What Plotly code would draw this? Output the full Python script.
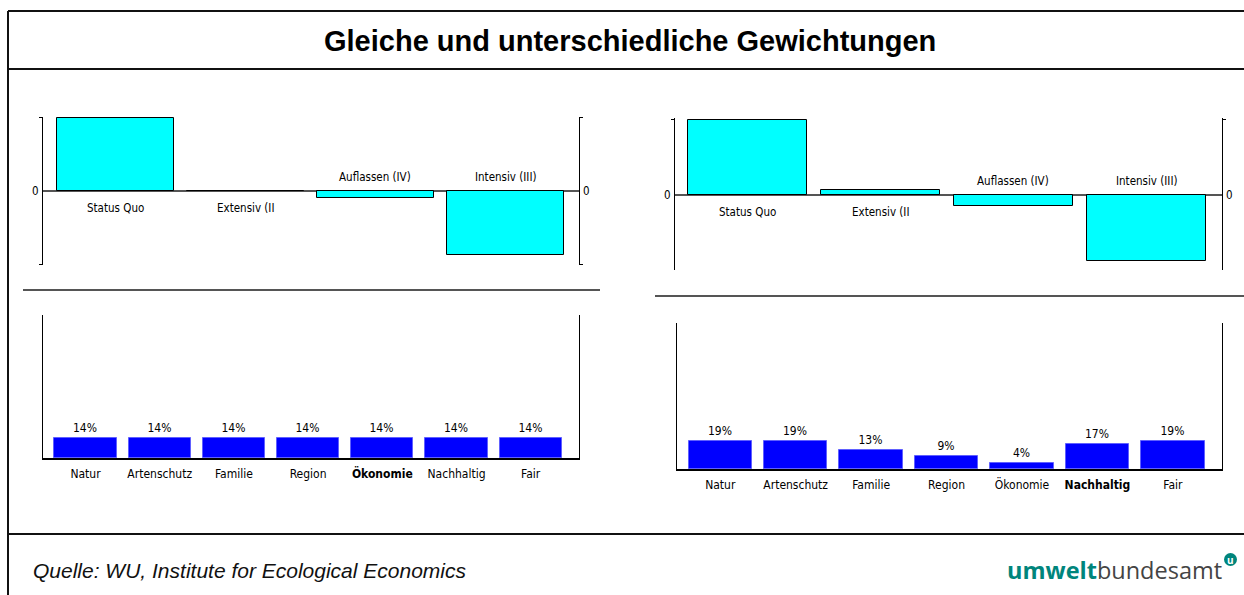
import plotly.graph_objects as go

# ---------------- data ----------------
options = ["Status Quo", "Extensiv (II", "Auflassen (IV)", "Intensiv (III)"]
utility_equal = [0.985, 0.0, -0.095, -0.865]
utility_diff = [0.99, 0.066, -0.145, -0.87]

criteria = ["Natur", "Artenschutz", "Familie", "Region", "Ökonomie", "Nachhaltig", "Fair"]
weights_equal = [14, 14, 14, 14, 14, 14, 14]
weights_diff = [19, 19, 13, 9, 4, 17, 19]
bold_equal = "Ökonomie"
bold_diff = "Nachhaltig"

title_text = "Gleiche und unterschiedliche Gewichtungen"
source_text = "Quelle: WU, Institute for Ecological Economics"

# ---------------- layout helpers ----------------
W, H = 1244, 595
def fx(x):
    return x / W
def fy(y):
    return 1 - y / H

SMALL = "Liberation Sans Narrow, Arial Narrow, DejaVu Sans Condensed, sans-serif"
SMALL_SIZE = 11.5
CYAN = "#00ffff"
BLUE = "#0000ff"

fig = go.Figure()

# top charts (utility)
for vals, xa, ya in [(utility_equal, "x", "y"), (utility_diff, "x2", "y2")]:
    fig.add_trace(go.Bar(
        x=options, y=vals, xaxis=xa, yaxis=ya, width=0.9,
        marker=dict(color=CYAN, line=dict(color="#000000", width=1)),
        showlegend=False, hoverinfo="x+y",
    ))
    for o, v in zip(options, vals):
        fig.add_annotation(
            x=o, y=0, xref=xa, yref=ya, text=o, showarrow=False,
            yanchor="middle", yshift=(-17 if v >= 0 else 14),
            font=dict(family=SMALL, size=SMALL_SIZE, color="#000"),
        )
    for xpos, anchor, shift in [(0, "right", -2), (1, "left", 2)]:
        fig.add_annotation(
            x=xpos, y=0, xref=xa + " domain", yref=ya, text="0", showarrow=False,
            xanchor=anchor, xshift=shift, yanchor="middle",
            font=dict(family=SMALL, size=SMALL_SIZE, color="#000"),
        )

# bottom charts (weights)
for vals, xa, ya in [(weights_equal, "x3", "y3"), (weights_diff, "x4", "y4")]:
    fig.add_trace(go.Bar(
        x=criteria, y=vals, xaxis=xa, yaxis=ya, width=0.84,
        marker=dict(color=BLUE, line=dict(color="#6060ff", width=1)),
        text=[f"{v}%" for v in vals], textposition="outside", cliponaxis=False,
        textfont=dict(family=SMALL, size=12, color="#000"),
        showlegend=False, hoverinfo="x+y",
    ))

def ticktext(bold):
    return [f"<b>{c}</b>" if c == bold else c for c in criteria]

top_y = dict(range=[-1, 1], zeroline=True, zerolinecolor="#555555", zerolinewidth=2,
             showgrid=False, showline=True, linecolor="#000", linewidth=1, mirror="ticks",
             ticks="outside", ticklen=3, tickcolor="#000", tickvals=[-0.995, 0.995],
             ticktext=["", ""], layer="above traces", fixedrange=True)
top_x = dict(showgrid=False, showline=False, showticklabels=False, ticks="", zeroline=False,
             fixedrange=True)
bot_y = dict(range=[0, 100], showgrid=False, zeroline=False, showline=True, linecolor="#000",
             linewidth=1, mirror=True, showticklabels=False, ticks="", fixedrange=True)
bot_x = dict(showgrid=False, zeroline=False, showline=True, linecolor="#000", linewidth=2,
             ticks="outside", ticklen=4, tickcolor="rgba(0,0,0,0)",
             tickfont=dict(family=SMALL, size=12, color="#000"), fixedrange=True,
             range=[-0.573, 6.651], tickmode="array", tickvals=criteria)

fig.update_layout(
    width=W, height=H, autosize=False,
    margin=dict(l=0, r=0, t=0, b=0),
    paper_bgcolor="white", plot_bgcolor="white",
    bargap=0,
    xaxis=dict(top_x, domain=[fx(43), fx(579)], range=[-0.554, 3.569], anchor="y"),
    yaxis=dict(top_y, domain=[fy(265), fy(117)], anchor="x"),
    xaxis2=dict(top_x, domain=[fx(675), fx(1222)], range=[-0.545, 3.568], anchor="y2"),
    yaxis2=dict(top_y, domain=[fy(270), fy(118)], anchor="x2", range=[-0.99, 1.01]),
    xaxis3=dict(bot_x, domain=[fx(43), fx(579)], anchor="y3", ticktext=ticktext(bold_equal)),
    yaxis3=dict(bot_y, domain=[fy(458), fy(315)], anchor="x3"),
    xaxis4=dict(bot_x, domain=[fx(677), fx(1222)], anchor="y4", ticktext=ticktext(bold_diff)),
    yaxis4=dict(bot_y, domain=[fy(469), fy(323)], anchor="x4"),
)

# frame lines
frame = dict(type="line", xref="paper", yref="paper", line=dict(color="#111", width=2))
shapes = [
    dict(frame, x0=fx(8), x1=1, y0=fy(11), y1=fy(11)),
    dict(frame, x0=fx(8), x1=1, y0=fy(69), y1=fy(69)),
    dict(frame, x0=fx(8), x1=1, y0=fy(534), y1=fy(534)),
    dict(frame, x0=fx(8), x1=fx(8), y0=fy(11), y1=0),
    dict(type="line", xref="paper", yref="paper", x0=fx(23), x1=fx(600), y0=fy(290), y1=fy(290),
         line=dict(color="#555", width=2)),
    dict(type="line", xref="paper", yref="paper", x0=fx(655), x1=1, y0=fy(296), y1=fy(296),
         line=dict(color="#555", width=2)),
    dict(type="circle", xref="paper", yref="paper", x0=fx(1224), x1=fx(1237), y0=fy(566), y1=fy(553),
         fillcolor="#00857c", line=dict(width=0)),
]
fig.update_layout(shapes=shapes)

fig.add_annotation(x=fx(630), y=fy(41), xref="paper", yref="paper", text=f"<b>{title_text}</b>",
                   showarrow=False, xanchor="center", yanchor="middle",
                   font=dict(family="Liberation Sans, Arial, sans-serif", size=29, color="#000"))
fig.add_annotation(x=fx(31), y=fy(570), xref="paper", yref="paper", text=f"<i>{source_text}</i>",
                   showarrow=False, xanchor="left", yanchor="middle",
                   font=dict(family="Liberation Sans, Arial, sans-serif", size=21, color="#111"))
fig.add_annotation(x=fx(1224), y=fy(570), xref="paper", yref="paper",
                   text="<span style='color:#00857c;font-weight:bold'>umwelt</span>"
                        "<span style='color:#444'>bundesamt</span>",
                   showarrow=False, xanchor="right", yanchor="middle",
                   font=dict(family="Open Sans, Noto Sans, sans-serif", size=23.5, color="#444"))
fig.add_annotation(x=fx(1230.5), y=fy(559.5), xref="paper", yref="paper", text="<b>u</b>",
                   showarrow=False, xanchor="center", yanchor="middle",
                   font=dict(family="Open Sans, sans-serif", size=10, color="white"))

fig.write_html(
    "out.html",
    config={"displayModeBar": False},
    post_script="document.body.style.margin='0';document.body.style.overflow='hidden';",
)
